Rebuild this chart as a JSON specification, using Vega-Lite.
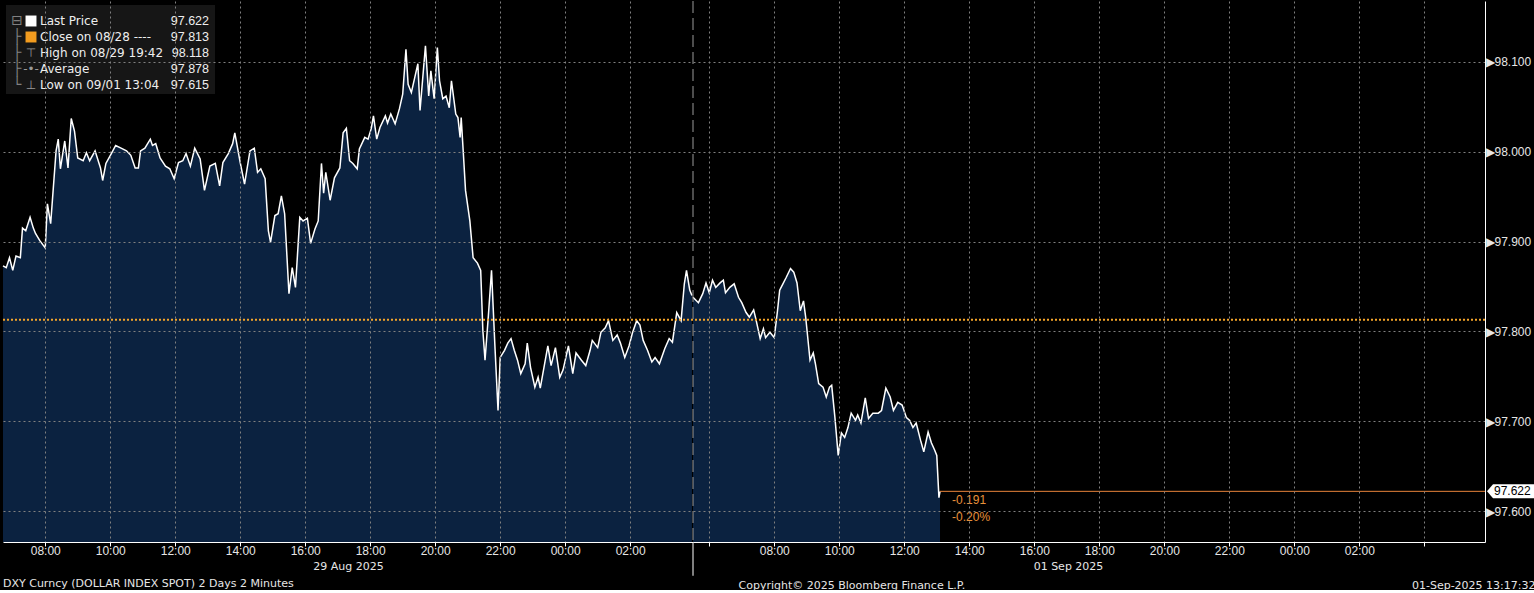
{
  "$schema": "https://vega.github.io/schema/vega-lite/v6.json",
  "background": "#000000",
  "padding": 0,
  "title": {"text": "DXY Curncy (DOLLAR INDEX SPOT) 2 Days 2 Minutes", "orient": "bottom", "anchor": "start", "frame": "group", "offset": -12, "fontSize": 11, "fontWeight": "normal", "color": "#e6e6e6", "font": "DejaVu Sans"},
  "datasets": {
    "aug29": [
      {"t":"2025-08-29T06:42","price":97.873},{"t":"2025-08-29T06:48","price":97.871},{"t":"2025-08-29T06:54","price":97.882},{"t":"2025-08-29T07:00","price":97.868},{"t":"2025-08-29T07:06","price":97.884},{"t":"2025-08-29T07:14","price":97.882},{"t":"2025-08-29T07:18","price":97.915},{"t":"2025-08-29T07:24","price":97.912},{"t":"2025-08-29T07:32","price":97.927},{"t":"2025-08-29T07:38","price":97.915},{"t":"2025-08-29T07:42","price":97.909},{"t":"2025-08-29T07:50","price":97.901},{"t":"2025-08-29T08:00","price":97.893},{"t":"2025-08-29T08:04","price":97.942},{"t":"2025-08-29T08:10","price":97.920},{"t":"2025-08-29T08:20","price":98.001},{"t":"2025-08-29T08:24","price":98.014},{"t":"2025-08-29T08:28","price":97.981},{"t":"2025-08-29T08:36","price":98.012},{"t":"2025-08-29T08:42","price":97.982},{"t":"2025-08-29T08:48","price":98.037},{"t":"2025-08-29T08:54","price":98.023},{"t":"2025-08-29T09:00","price":97.993},{"t":"2025-08-29T09:10","price":97.990},{"t":"2025-08-29T09:16","price":97.999},{"t":"2025-08-29T09:22","price":97.990},{"t":"2025-08-29T09:32","price":98.001},{"t":"2025-08-29T09:42","price":97.982},{"t":"2025-08-29T09:46","price":97.968},{"t":"2025-08-29T09:52","price":97.987},{"t":"2025-08-29T10:02","price":97.998},{"t":"2025-08-29T10:10","price":98.007},{"t":"2025-08-29T10:20","price":98.004},{"t":"2025-08-29T10:30","price":98.001},{"t":"2025-08-29T10:38","price":97.996},{"t":"2025-08-29T10:46","price":97.982},{"t":"2025-08-29T10:52","price":97.982},{"t":"2025-08-29T10:56","price":98.001},{"t":"2025-08-29T11:04","price":98.004},{"t":"2025-08-29T11:14","price":98.014},{"t":"2025-08-29T11:18","price":98.007},{"t":"2025-08-29T11:24","price":98.009},{"t":"2025-08-29T11:32","price":97.993},{"t":"2025-08-29T11:42","price":97.984},{"t":"2025-08-29T11:50","price":97.981},{"t":"2025-08-29T11:58","price":97.970},{"t":"2025-08-29T12:06","price":97.988},{"t":"2025-08-29T12:14","price":97.990},{"t":"2025-08-29T12:20","price":97.998},{"t":"2025-08-29T12:28","price":97.984},{"t":"2025-08-29T12:36","price":98.004},{"t":"2025-08-29T12:46","price":97.992},{"t":"2025-08-29T12:54","price":97.957},{"t":"2025-08-29T13:04","price":97.984},{"t":"2025-08-29T13:14","price":97.987},{"t":"2025-08-29T13:22","price":97.962},{"t":"2025-08-29T13:28","price":97.988},{"t":"2025-08-29T13:38","price":97.998},{"t":"2025-08-29T13:46","price":98.009},{"t":"2025-08-29T13:50","price":98.021},{"t":"2025-08-29T14:00","price":97.988},{"t":"2025-08-29T14:08","price":97.964},{"t":"2025-08-29T14:18","price":98.001},{"t":"2025-08-29T14:26","price":98.004},{"t":"2025-08-29T14:32","price":97.977},{"t":"2025-08-29T14:38","price":97.981},{"t":"2025-08-29T14:46","price":97.970},{"t":"2025-08-29T14:52","price":97.912},{"t":"2025-08-29T14:56","price":97.899},{"t":"2025-08-29T15:04","price":97.929},{"t":"2025-08-29T15:10","price":97.931},{"t":"2025-08-29T15:16","price":97.951},{"t":"2025-08-29T15:22","price":97.931},{"t":"2025-08-29T15:30","price":97.842},{"t":"2025-08-29T15:36","price":97.871},{"t":"2025-08-29T15:42","price":97.849},{"t":"2025-08-29T15:50","price":97.927},{"t":"2025-08-29T15:56","price":97.923},{"t":"2025-08-29T16:04","price":97.926},{"t":"2025-08-29T16:10","price":97.898},{"t":"2025-08-29T16:18","price":97.914},{"t":"2025-08-29T16:24","price":97.923},{"t":"2025-08-29T16:30","price":97.987},{"t":"2025-08-29T16:34","price":97.954},{"t":"2025-08-29T16:38","price":97.977},{"t":"2025-08-29T16:46","price":97.946},{"t":"2025-08-29T16:54","price":97.971},{"t":"2025-08-29T17:04","price":97.982},{"t":"2025-08-29T17:10","price":98.021},{"t":"2025-08-29T17:16","price":98.026},{"t":"2025-08-29T17:22","price":97.990},{"t":"2025-08-29T17:28","price":97.987},{"t":"2025-08-29T17:36","price":97.981},{"t":"2025-08-29T17:40","price":98.003},{"t":"2025-08-29T17:50","price":98.016},{"t":"2025-08-29T17:56","price":98.014},{"t":"2025-08-29T18:02","price":98.026},{"t":"2025-08-29T18:06","price":98.040},{"t":"2025-08-29T18:12","price":98.014},{"t":"2025-08-29T18:18","price":98.027},{"t":"2025-08-29T18:28","price":98.040},{"t":"2025-08-29T18:32","price":98.032},{"t":"2025-08-29T18:38","price":98.042},{"t":"2025-08-29T18:46","price":98.031},{"t":"2025-08-29T18:54","price":98.048},{"t":"2025-08-29T19:00","price":98.064},{"t":"2025-08-29T19:06","price":98.114},{"t":"2025-08-29T19:10","price":98.075},{"t":"2025-08-29T19:16","price":98.066},{"t":"2025-08-29T19:22","price":98.082},{"t":"2025-08-29T19:28","price":98.098},{"t":"2025-08-29T19:32","price":98.046},{"t":"2025-08-29T19:42","price":98.118},{"t":"2025-08-29T19:48","price":98.062},{"t":"2025-08-29T19:52","price":98.090},{"t":"2025-08-29T19:58","price":98.059},{"t":"2025-08-29T20:04","price":98.116},{"t":"2025-08-29T20:08","price":98.079},{"t":"2025-08-29T20:14","price":98.059},{"t":"2025-08-29T20:20","price":98.062},{"t":"2025-08-29T20:26","price":98.049},{"t":"2025-08-29T20:30","price":98.079},{"t":"2025-08-29T20:38","price":98.042},{"t":"2025-08-29T20:42","price":98.038},{"t":"2025-08-29T20:46","price":98.016},{"t":"2025-08-29T20:48","price":98.038},{"t":"2025-08-29T20:52","price":97.998},{"t":"2025-08-29T20:56","price":97.957},{"t":"2025-08-29T21:04","price":97.923},{"t":"2025-08-29T21:10","price":97.882},{"t":"2025-08-29T21:18","price":97.876},{"t":"2025-08-29T21:24","price":97.868},{"t":"2025-08-29T21:28","price":97.801},{"t":"2025-08-29T21:32","price":97.768},{"t":"2025-08-29T21:38","price":97.816},{"t":"2025-08-29T21:44","price":97.868},{"t":"2025-08-29T21:50","price":97.787},{"t":"2025-08-29T21:56","price":97.712},{"t":"2025-08-29T22:00","price":97.771},{"t":"2025-08-29T22:08","price":97.779},{"t":"2025-08-29T22:14","price":97.787},{"t":"2025-08-29T22:20","price":97.792},{"t":"2025-08-29T22:26","price":97.779},{"t":"2025-08-29T22:32","price":97.768},{"t":"2025-08-29T22:38","price":97.753},{"t":"2025-08-29T22:46","price":97.764},{"t":"2025-08-29T22:50","price":97.787},{"t":"2025-08-29T22:56","price":97.760},{"t":"2025-08-29T23:04","price":97.738},{"t":"2025-08-29T23:10","price":97.749},{"t":"2025-08-29T23:14","price":97.737},{"t":"2025-08-29T23:22","price":97.764},{"t":"2025-08-29T23:28","price":97.784},{"t":"2025-08-29T23:34","price":97.762},{"t":"2025-08-29T23:42","price":97.782},{"t":"2025-08-29T23:50","price":97.749},{"t":"2025-08-29T23:56","price":97.757},{"t":"2025-08-30T00:06","price":97.784},{"t":"2025-08-30T00:14","price":97.753},{"t":"2025-08-30T00:20","price":97.776},{"t":"2025-08-30T00:30","price":97.768},{"t":"2025-08-30T00:38","price":97.762},{"t":"2025-08-30T00:46","price":97.779},{"t":"2025-08-30T00:50","price":97.790},{"t":"2025-08-30T01:00","price":97.782},{"t":"2025-08-30T01:06","price":97.799},{"t":"2025-08-30T01:14","price":97.804},{"t":"2025-08-30T01:20","price":97.812},{"t":"2025-08-30T01:28","price":97.790},{"t":"2025-08-30T01:36","price":97.796},{"t":"2025-08-30T01:42","price":97.787},{"t":"2025-08-30T01:50","price":97.771},{"t":"2025-08-30T01:58","price":97.784},{"t":"2025-08-30T02:04","price":97.798},{"t":"2025-08-30T02:12","price":97.812},{"t":"2025-08-30T02:18","price":97.807},{"t":"2025-08-30T02:24","price":97.790},{"t":"2025-08-30T02:32","price":97.779},{"t":"2025-08-30T02:40","price":97.766},{"t":"2025-08-30T02:46","price":97.771},{"t":"2025-08-30T02:54","price":97.764},{"t":"2025-08-30T03:04","price":97.781},{"t":"2025-08-30T03:12","price":97.792},{"t":"2025-08-30T03:18","price":97.788},{"t":"2025-08-30T03:26","price":97.821},{"t":"2025-08-30T03:34","price":97.812},{"t":"2025-08-30T03:40","price":97.853},{"t":"2025-08-30T03:44","price":97.868},{"t":"2025-08-30T03:50","price":97.846},{"t":"2025-08-30T03:54","price":97.840}
    ],
    "sep1": [
      {"t":"2025-09-01T05:30","price":97.838},{"t":"2025-09-01T05:40","price":97.832},{"t":"2025-09-01T05:48","price":97.842},{"t":"2025-09-01T05:54","price":97.854},{"t":"2025-09-01T06:00","price":97.843},{"t":"2025-09-01T06:06","price":97.857},{"t":"2025-09-01T06:12","price":97.849},{"t":"2025-09-01T06:20","price":97.854},{"t":"2025-09-01T06:26","price":97.857},{"t":"2025-09-01T06:30","price":97.843},{"t":"2025-09-01T06:38","price":97.849},{"t":"2025-09-01T06:46","price":97.853},{"t":"2025-09-01T06:54","price":97.838},{"t":"2025-09-01T07:00","price":97.832},{"t":"2025-09-01T07:08","price":97.821},{"t":"2025-09-01T07:14","price":97.816},{"t":"2025-09-01T07:22","price":97.824},{"t":"2025-09-01T07:26","price":97.814},{"t":"2025-09-01T07:34","price":97.792},{"t":"2025-09-01T07:40","price":97.803},{"t":"2025-09-01T07:44","price":97.793},{"t":"2025-09-01T07:52","price":97.799},{"t":"2025-09-01T08:00","price":97.793},{"t":"2025-09-01T08:06","price":97.823},{"t":"2025-09-01T08:10","price":97.846},{"t":"2025-09-01T08:16","price":97.853},{"t":"2025-09-01T08:22","price":97.860},{"t":"2025-09-01T08:30","price":97.870},{"t":"2025-09-01T08:36","price":97.866},{"t":"2025-09-01T08:42","price":97.854},{"t":"2025-09-01T08:48","price":97.823},{"t":"2025-09-01T08:54","price":97.834},{"t":"2025-09-01T08:58","price":97.816},{"t":"2025-09-01T09:06","price":97.768},{"t":"2025-09-01T09:12","price":97.776},{"t":"2025-09-01T09:16","price":97.764},{"t":"2025-09-01T09:22","price":97.742},{"t":"2025-09-01T09:30","price":97.738},{"t":"2025-09-01T09:36","price":97.727},{"t":"2025-09-01T09:42","price":97.738},{"t":"2025-09-01T09:46","price":97.740},{"t":"2025-09-01T09:52","price":97.704},{"t":"2025-09-01T09:58","price":97.662},{"t":"2025-09-01T10:04","price":97.687},{"t":"2025-09-01T10:10","price":97.682},{"t":"2025-09-01T10:16","price":97.693},{"t":"2025-09-01T10:22","price":97.709},{"t":"2025-09-01T10:30","price":97.701},{"t":"2025-09-01T10:34","price":97.707},{"t":"2025-09-01T10:40","price":97.698},{"t":"2025-09-01T10:48","price":97.726},{"t":"2025-09-01T10:54","price":97.703},{"t":"2025-09-01T11:02","price":97.709},{"t":"2025-09-01T11:12","price":97.709},{"t":"2025-09-01T11:18","price":97.712},{"t":"2025-09-01T11:26","price":97.737},{"t":"2025-09-01T11:34","price":97.727},{"t":"2025-09-01T11:40","price":97.712},{"t":"2025-09-01T11:48","price":97.721},{"t":"2025-09-01T11:56","price":97.718},{"t":"2025-09-01T12:04","price":97.704},{"t":"2025-09-01T12:10","price":97.701},{"t":"2025-09-01T12:16","price":97.693},{"t":"2025-09-01T12:22","price":97.698},{"t":"2025-09-01T12:30","price":97.679},{"t":"2025-09-01T12:36","price":97.666},{"t":"2025-09-01T12:44","price":97.688},{"t":"2025-09-01T12:50","price":97.676},{"t":"2025-09-01T12:56","price":97.668},{"t":"2025-09-01T13:00","price":97.662},{"t":"2025-09-01T13:04","price":97.615},{"t":"2025-09-01T13:06","price":97.622}
    ],
    "closeLevel": [{"level":"Close on 08/28","price":97.813}],
    "sessionStart": [{"start":"2025-09-01T05:30"}],
    "lastPrice": [{"t":"2025-09-01T13:06","end":"2025-09-02T05:52","price":97.622,"chg":"-0.191","pct":"-0.20%","label":"97.622"}]
  },
  "spacing": 0,
  "bounds": "flush",
  "hconcat": [
    {
      "width": 690,
      "height": 541,
      "layer": [
        {
          "data": {"name": "aug29"},
          "mark": {"type": "area", "color": "#0b2240", "clip": true},
          "encoding": {
            "x": {"field": "t", "type": "temporal",
              "scale": {"domain": [{"year":2025,"month":8,"date":29,"hours":6,"minutes":42},{"year":2025,"month":8,"date":30,"hours":3,"minutes":56}]},
              "axis": {"title": "29 Aug 2025", "format": "%H:%M",
                "values": [{"year":2025,"month":8,"date":29,"hours":8},{"year":2025,"month":8,"date":29,"hours":10},{"year":2025,"month":8,"date":29,"hours":12},{"year":2025,"month":8,"date":29,"hours":14},{"year":2025,"month":8,"date":29,"hours":16},{"year":2025,"month":8,"date":29,"hours":18},{"year":2025,"month":8,"date":29,"hours":20},{"year":2025,"month":8,"date":29,"hours":22},{"year":2025,"month":8,"date":30,"hours":0},{"year":2025,"month":8,"date":30,"hours":2}],
                "labelOverlap": false, "labelFlush": false, "grid": true, "gridColor": "#808080", "gridDash": [2, 3],
                "tickColor": "#ffffff",
                "tickSize": 4, "domainColor": "#ffffff", "labelColor": "#e6e6e6", "labelFont": "Liberation Sans", "labelFontSize": 12, "labelPadding": -1,
                "titleColor": "#e6e6e6", "titleFont": "DejaVu Sans", "titleFontSize": 11, "titleFontWeight": "normal", "titlePadding": 4, "zindex": 1}},
            "y": {"field": "price", "type": "quantitative",
              "scale": {"domain": [97.5656, 98.1678], "zero": false, "nice": false},
              "axis": {"orient": "left", "labels": false, "ticks": false, "domain": false, "grid": true, "gridColor": "#808080", "gridDash": [2, 3],
                "values": [97.6, 97.7, 97.8, 97.9, 98.0, 98.1],
                "title": "Copyright© 2025 Bloomberg Finance L.P.", "titleAngle": 0, "titleX": 735, "titleY": 584, "titleAlign": "left", "titleBaseline": "middle",
                "titleColor": "#e6e6e6", "titleFont": "DejaVu Sans", "titleFontSize": 11, "titleFontWeight": "normal", "zindex": 1}}
          }
        },
        {
          "data": {"name": "aug29"},
          "mark": {"type": "line", "color": "#ffffff", "strokeWidth": 1.5},
          "encoding": {"x": {"field": "t", "type": "temporal"}, "y": {"field": "price", "type": "quantitative"}}
        },
        {
          "data": {"name": "closeLevel"},
          "mark": {"type": "rule", "color": "#f5a52a", "strokeDash": [2, 2], "strokeWidth": 2},
          "encoding": {"y": {"field": "price", "type": "quantitative"}}
        },
        {
          "data": {"values": [{}]},
          "mark": {"type": "rect", "color": "#161616"},
          "encoding": {"x": {"value": 3}, "x2": {"value": 212}, "y": {"value": 4}, "y2": {"value": 93}}
        },
        {
          "data": {"values": [{}]},
          "mark": {"type": "text", "color": "#808080", "fontSize": 14, "align": "center", "baseline": "middle", "lineHeight": 16, "font": "DejaVu Sans", "text": ["⊟", "├", "├", "├", "└"]},
          "encoding": {"x": {"value": 14}, "y": {"value": 20}}
        },
        {
          "data": {"values": [{}]},
          "mark": {"type": "point", "shape": "square", "filled": true, "size": 120, "opacity": 1, "color": "#ffffff"},
          "encoding": {"x": {"value": 28}, "y": {"value": 20}}
        },
        {
          "data": {"values": [{}]},
          "mark": {"type": "point", "shape": "square", "filled": true, "size": 120, "opacity": 1, "color": "#f39c1f"},
          "encoding": {"x": {"value": 28}, "y": {"value": 36}}
        },
        {
          "data": {"values": [{}]},
          "mark": {"type": "text", "color": "#9a9a9a", "fontSize": 12, "align": "center", "baseline": "middle", "lineHeight": 16, "font": "DejaVu Sans", "text": ["⊤", "-•-", "⊥"]},
          "encoding": {"x": {"value": 28}, "y": {"value": 52}}
        },
        {
          "data": {"values": [{}]},
          "mark": {"type": "text", "color": "#eeeeee", "fontSize": 12, "align": "left", "baseline": "middle", "lineHeight": 16, "font": "DejaVu Sans", "text": ["Last Price", "Close on 08/28 ----", "High on 08/29 19:42", "Average", "Low on 09/01 13:04"]},
          "encoding": {"x": {"value": 37}, "y": {"value": 20}}
        },
        {
          "data": {"values": [{}]},
          "mark": {"type": "text", "color": "#eeeeee", "fontSize": 12.5, "align": "right", "baseline": "middle", "lineHeight": 16, "font": "Liberation Sans", "text": ["97.622", "97.813", "98.118", "97.878", "97.615"]},
          "encoding": {"x": {"value": 206}, "y": {"value": 20}}
        }
      ]
    },
    {
      "width": 792,
      "height": 541,
      "layer": [
        {
          "data": {"name": "sep1"},
          "mark": {"type": "area", "color": "#0b2240", "clip": true},
          "encoding": {
            "x": {"field": "t", "type": "temporal",
              "scale": {"domain": [{"year":2025,"month":9,"date":1,"hours":5,"minutes":30},{"year":2025,"month":9,"date":2,"hours":5,"minutes":52}]},
              "axis": {"title": "01 Sep 2025", "titleX": 375, "format": "%H:%M",
                "values": [{"year":2025,"month":9,"date":1,"hours":6},{"year":2025,"month":9,"date":1,"hours":8},{"year":2025,"month":9,"date":1,"hours":10},{"year":2025,"month":9,"date":1,"hours":12},{"year":2025,"month":9,"date":1,"hours":14},{"year":2025,"month":9,"date":1,"hours":16},{"year":2025,"month":9,"date":1,"hours":18},{"year":2025,"month":9,"date":1,"hours":20},{"year":2025,"month":9,"date":1,"hours":22},{"year":2025,"month":9,"date":2,"hours":0},{"year":2025,"month":9,"date":2,"hours":2},{"year":2025,"month":9,"date":2,"hours":4}],
                "labelExpr": "hours(datum.value) == 6 || hours(datum.value) == 4 ? '' : datum.label",
                "labelOverlap": false, "labelFlush": false, "grid": true, "gridColor": "#808080", "gridDash": [2, 3],
                "tickColor": "#ffffff",
                "tickSize": 4, "domainColor": "#ffffff", "labelColor": "#e6e6e6", "labelFont": "Liberation Sans", "labelFontSize": 12, "labelPadding": -1,
                "titleColor": "#e6e6e6", "titleFont": "DejaVu Sans", "titleFontSize": 11, "titleFontWeight": "normal", "titlePadding": 4, "zindex": 1}},
            "y": {"field": "price", "type": "quantitative",
              "scale": {"domain": [97.5656, 98.1678], "zero": false, "nice": false},
              "axis": {"orient": "right",
                "values": [97.6, 97.7, 97.8, 97.9, 98.0, 98.1],
                "labelExpr": "'▶' + format(datum.value, '.3f')",
                "ticks": false,
                "grid": true, "gridColor": "#808080", "gridDash": [2, 3],
                "domainColor": "#ffffff", "labelColor": "#e6e6e6", "labelFont": "Liberation Sans", "labelFontSize": 12, "labelPadding": 0, "labelOverlap": false, "labelFlush": false,
                "title": "01-Sep-2025 13:17:32", "titleAngle": 0, "titleX": 50, "titleY": 584, "titleAlign": "right", "titleBaseline": "middle",
                "titleColor": "#e6e6e6", "titleFont": "DejaVu Sans", "titleFontSize": 11, "titleFontWeight": "normal", "zindex": 1}}
          }
        },
        {
          "data": {"name": "sep1"},
          "mark": {"type": "line", "color": "#ffffff", "strokeWidth": 1.5},
          "encoding": {"x": {"field": "t", "type": "temporal"}, "y": {"field": "price", "type": "quantitative"}}
        },
        {
          "data": {"name": "closeLevel"},
          "mark": {"type": "rule", "color": "#f5a52a", "strokeDash": [2, 2], "strokeWidth": 2},
          "encoding": {"y": {"field": "price", "type": "quantitative"}}
        },
        {
          "data": {"name": "sessionStart"},
          "mark": {"type": "rule", "color": "#9a9a9a", "strokeDash": [12, 5], "strokeWidth": 1},
          "encoding": {"x": {"field": "start", "type": "temporal"}}
        },
        {
          "data": {"name": "sessionStart"},
          "mark": {"type": "rule", "color": "#ffffff", "strokeWidth": 1},
          "encoding": {"x": {"field": "start", "type": "temporal"}, "y": {"datum": 97.5656, "type": "quantitative"}, "y2": {"datum": 97.528}}
        },
        {
          "data": {"name": "lastPrice"},
          "mark": {"type": "rule", "color": "#e8843a", "strokeWidth": 1},
          "encoding": {"x": {"field": "t", "type": "temporal"}, "x2": {"field": "end"}, "y": {"field": "price", "type": "quantitative"}}
        },
        {
          "data": {"name": "lastPrice"},
          "mark": {"type": "text", "color": "#e8913a", "fontSize": 12, "align": "left", "baseline": "middle", "dx": 12, "dy": 9, "font": "Liberation Sans"},
          "encoding": {"x": {"field": "t", "type": "temporal"}, "y": {"field": "price", "type": "quantitative"}, "text": {"field": "chg", "type": "nominal"}}
        },
        {
          "data": {"name": "lastPrice"},
          "mark": {"type": "text", "color": "#e8913a", "fontSize": 12, "align": "left", "baseline": "middle", "dx": 12, "dy": 26, "font": "Liberation Sans"},
          "encoding": {"x": {"field": "t", "type": "temporal"}, "y": {"field": "price", "type": "quantitative"}, "text": {"field": "pct", "type": "nominal"}}
        },
        {
          "data": {"name": "lastPrice"},
          "mark": {"type": "point", "shape": "M0.2,0L0.8,-0.7L5.1,-0.7L5.1,0.7L0.8,0.7Z", "size": 400, "filled": true, "color": "#ffffff", "opacity": 1},
          "encoding": {"x": {"field": "end", "type": "temporal"}, "y": {"field": "price", "type": "quantitative"}}
        },
        {
          "data": {"name": "lastPrice"},
          "mark": {"type": "text", "color": "#000000", "fontSize": 12, "align": "left", "baseline": "middle", "dx": 9, "font": "Liberation Sans"},
          "encoding": {"x": {"field": "end", "type": "temporal"}, "y": {"field": "price", "type": "quantitative"}, "text": {"field": "label", "type": "nominal"}}
        }
      ]
    }
  ],
  "config": {
    "font": "Liberation Sans",
    "view": {"stroke": null}
  }
}
